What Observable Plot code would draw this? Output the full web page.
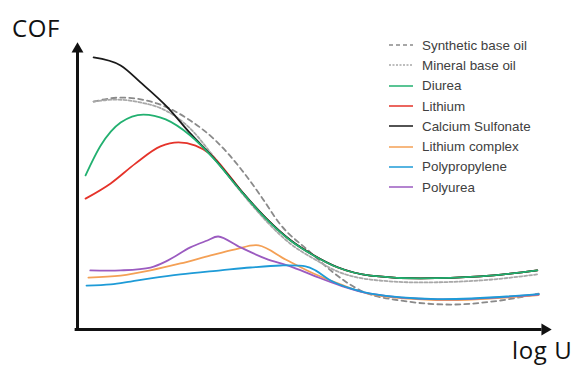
<!DOCTYPE html>
<html><head><meta charset="utf-8">
<script src="https://cdn.jsdelivr.net/npm/d3@7"></script>
<script src="https://cdn.jsdelivr.net/npm/@observablehq/plot@0.6"></script>
<style>
body{margin:0;background:#fff;}
#wrap{position:relative;width:575px;height:367px;overflow:hidden;}
.axtitle{position:absolute;font-family:"Open Sans",sans-serif;font-size:24px;letter-spacing:0.6px;color:#111;line-height:1;white-space:nowrap;}
#legend{position:absolute;left:389px;top:35px;font-family:"Liberation Sans",Arial,sans-serif;font-size:13.4px;color:#404040;}
#legend .row{display:flex;align-items:center;height:20.3px;}
#legend svg{margin-right:9px;}
</style></head><body>
<div id="wrap"></div>
<script>
// Series names (legend order), colours and dash styles
const seriesNames = ["Synthetic base oil","Mineral base oil","Diurea","Lithium","Calcium Sulfonate","Lithium complex","Polypropylene","Polyurea"];
const seriesColors = ["#8a8a8a","#a8a8a8","#22b070","#e5332a","#1a1a1a","#f4a055","#1e9bd7","#9b5bc0"];
const seriesDash = ["5,4","3,2",null,null,null,null,null,null];
const seriesCurve = ["monotone-x","monotone-x","monotone-x","monotone-x","monotone-x","catmull-rom","catmull-rom","catmull-rom"];
const axisLabels = ["COF","log U"];

// Curves as [log U, COF] in arbitrary units (0..100)
const syntheticBaseOil = [[3.4,79.4],[9.1,80.8],[16.9,78.7],[23.8,72.8],[29.1,65.9],[34.4,56.1],[38.6,46.7],[42.8,36.6],[49.2,26.8],[53.4,20.6],[59.7,13.6],[68.1,10.1],[78.7,8.7],[89.2,10.1],[97.3,12.5]];
const mineralBaseOil = [[3.4,79.4],[8.0,80.1],[13.3,79.1],[18.6,76.3],[23.8,70.0],[28.7,60.3],[34.4,48.1],[39.7,38.0],[44.9,29.9],[49.8,24.7],[54.9,20.2],[61.8,17.4],[72.4,16.4],[85.0,17.1],[97.0,19.2]];
const diurea = [[1.7,53.7],[4.9,64.1],[9.1,72.1],[13.9,74.9],[18.6,73.2],[23.8,67.6],[28.7,59.6],[34.4,48.4],[39.7,38.7],[44.9,31.0],[49.8,25.8],[54.9,21.6],[61.8,18.8],[72.4,17.8],[85.0,18.5],[97.0,20.6]];
const lithium = [[1.7,45.6],[7.0,50.9],[12.2,57.8],[17.5,63.8],[21.3,65.2],[24.9,64.1],[28.1,61.0],[31.9,53.9],[34.4,48.6],[39.7,38.9],[44.9,31.1],[49.8,25.9],[54.9,21.6],[61.8,18.8],[72.4,17.8],[85.0,18.5],[97.0,20.6]];
const calciumSulfonate = [[3.4,94.8],[9.1,92.0],[13.3,86.1],[19.0,77.4],[23.8,68.3],[28.7,59.8],[34.4,48.6],[39.7,38.9],[44.9,31.2],[49.8,25.9],[54.9,21.7],[61.8,18.8],[72.4,17.8],[85.0,18.5],[97.0,20.6]];
const lithiumComplex = [[2.3,18.1],[9.1,18.8],[15.4,20.6],[21.7,23.0],[28.1,25.8],[33.3,27.9],[38.2,29.3],[43.9,24.4],[49.8,19.5],[55.5,15.7],[61.8,12.3],[74.5,10.3],[85.0,10.6],[97.3,12.0]];
const polypropylene = [[1.9,15.3],[7.0,15.7],[11.2,16.7],[15.4,17.8],[21.7,19.2],[30.2,20.6],[36.5,21.6],[42.8,22.3],[48.1,22.0],[50.2,20.6],[53.4,17.1],[57.6,14.3],[61.8,12.5],[75.9,10.6],[97.3,12.3]];
const polyurea = [[2.7,20.6],[9.1,20.6],[15.4,21.6],[19.0,24.0],[23.8,28.6],[27.4,31.0],[29.7,32.4],[34.4,28.6],[39.7,24.7],[44.9,22.0],[49.8,18.8],[55.5,15.3],[61.8,12.5],[75.9,10.5],[97.3,12.2]];

const seriesData = [syntheticBaseOil, mineralBaseOil, diurea, lithium, calciumSulfonate, lithiumComplex, polypropylene, polyurea];
const drawOrder = [0,1,5,7,6,3,4,2];

const lineMarks = drawOrder.map(i => Plot.line(seriesData[i].map(([u,c]) => ({u, c})), {
  x: "u", y: "c", curve: seriesCurve[i],
  stroke: seriesColors[i], strokeWidth: 1.8,
  strokeDasharray: seriesDash[i] || undefined
}));

const chart = Plot.plot({
  width: 575, height: 367,
  marginLeft: 77, marginRight: 24, marginTop: 42, marginBottom: 38,
  x: {domain: [0, 100], axis: null},
  y: {domain: [0, 100], axis: null},
  style: {background: "#fff", overflow: "visible"},
  marks: [
    ...lineMarks,
    Plot.ruleX([0], {y1: -0.3, y2: 97, stroke: "#111", strokeWidth: 3}),
    Plot.ruleY([0], {x1: -0.5, x2: 98, stroke: "#111", strokeWidth: 3}),
    Plot.dot([{u: 0, c: 97.7}], {x: "u", y: "c", symbol: "triangle", r: 4.4, fill: "#111", stroke: "none"}),
    Plot.dot([{u: 98.6, c: 0}], {x: "u", y: "c", symbol: "triangle", r: 4.4, fill: "#111", stroke: "none", rotate: 90})
  ]
});
const wrap = document.getElementById("wrap");
wrap.appendChild(chart);

const cof = document.createElement("div");
cof.className = "axtitle"; cof.textContent = axisLabels[0];
cof.style.left = "12px"; cof.style.top = "16px";
wrap.appendChild(cof);
const lu = document.createElement("div");
lu.className = "axtitle"; lu.textContent = axisLabels[1];
lu.style.left = "512px"; lu.style.top = "338px";
wrap.appendChild(lu);

const legend = document.createElement("div");
legend.id = "legend";
seriesNames.forEach((name, i) => {
  const row = document.createElement("div");
  row.className = "row";
  const s = d3.create("svg").attr("width", 24).attr("height", 4);
  s.append("line").attr("x1", 0).attr("x2", 24).attr("y1", 2).attr("y2", 2)
    .attr("stroke", seriesColors[i]).attr("stroke-width", 1.5)
    .attr("stroke-dasharray", seriesDash[i] ? (i === 0 ? "4,3" : "2,1.5") : null);
  row.appendChild(s.node());
  const t = document.createElement("span");
  t.textContent = name;
  row.appendChild(t);
  legend.appendChild(row);
});
wrap.appendChild(legend);
</script>
</body></html>
